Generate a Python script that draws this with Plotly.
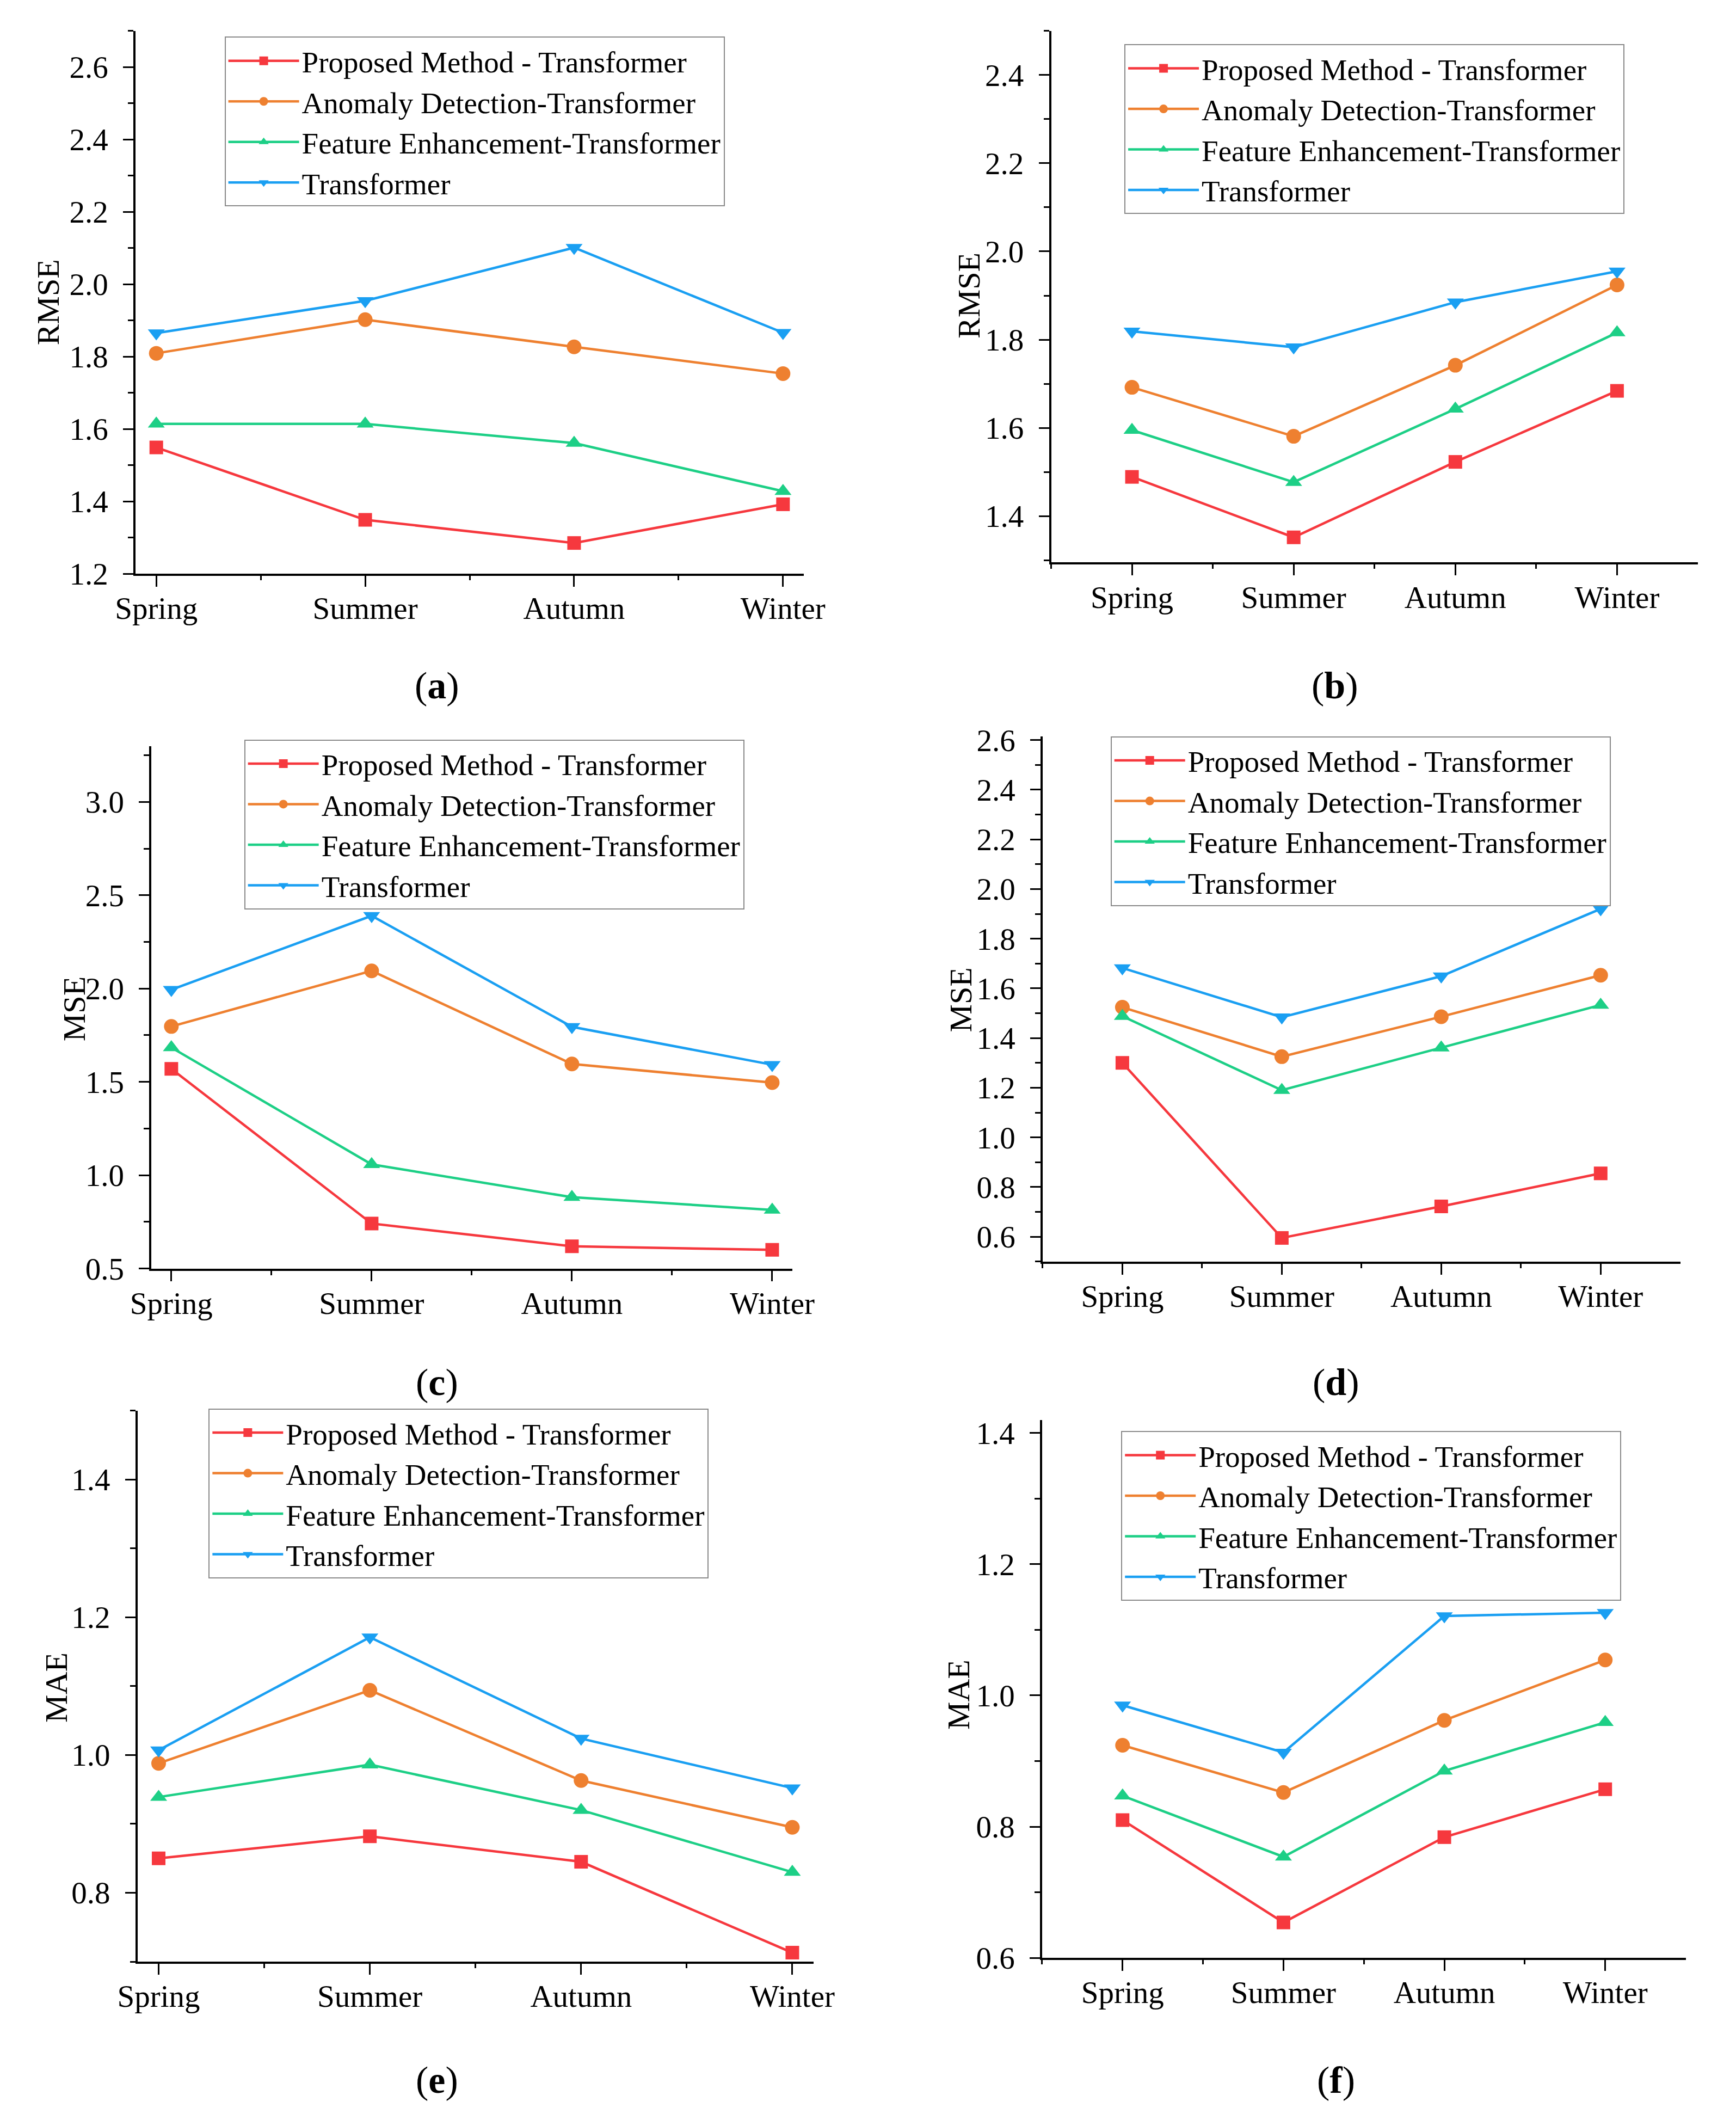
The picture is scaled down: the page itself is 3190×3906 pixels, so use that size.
import plotly.graph_objects as go

W, H = 3190, 3906

seasons = ["Spring", "Summer", "Autumn", "Winter"]
series_names = ["Proposed Method - Transformer", "Anomaly Detection-Transformer",
                "Feature Enhancement-Transformer", "Transformer"]

# (a) RMSE
a_proposed = [1.549, 1.349, 1.285, 1.392]
a_anomaly = [1.809, 1.902, 1.827, 1.753]
a_feature = [1.614, 1.614, 1.561, 1.428]
a_transformer = [1.865, 1.954, 2.101, 1.866]
# (b) RMSE
b_proposed = [1.489, 1.352, 1.523, 1.684]
b_anomaly = [1.692, 1.581, 1.742, 1.924]
b_feature = [1.595, 1.477, 1.643, 1.816]
b_transformer = [1.819, 1.783, 1.885, 1.955]
# (c) MSE
c_proposed = [1.570, 0.741, 0.619, 0.600]
c_anomaly = [1.797, 2.095, 1.596, 1.496]
c_feature = [1.684, 1.058, 0.882, 0.814]
c_transformer = [1.994, 2.390, 1.795, 1.592]
# (d) MSE
d_proposed = [1.300, 0.595, 0.722, 0.855]
d_anomaly = [1.524, 1.325, 1.486, 1.653]
d_feature = [1.488, 1.190, 1.361, 1.533]
d_transformer = [1.682, 1.484, 1.649, 1.920]
# (e) MAE
e_proposed = [0.850, 0.882, 0.845, 0.713]
e_anomaly = [0.988, 1.094, 0.963, 0.895]
e_feature = [0.939, 0.986, 0.920, 0.830]
e_transformer = [1.007, 1.171, 1.024, 0.952]
# (f) MAE
f_proposed = [0.810, 0.654, 0.784, 0.857]
f_anomaly = [0.924, 0.852, 0.962, 1.054]
f_feature = [0.847, 0.754, 0.885, 0.959]
f_transformer = [0.985, 0.913, 1.121, 1.126]

panel_data = {
    "a": [a_proposed, a_anomaly, a_feature, a_transformer],
    "b": [b_proposed, b_anomaly, b_feature, b_transformer],
    "c": [c_proposed, c_anomaly, c_feature, c_transformer],
    "d": [d_proposed, d_anomaly, d_feature, d_transformer],
    "e": [e_proposed, e_anomaly, e_feature, e_transformer],
    "f": [f_proposed, f_anomaly, f_feature, f_transformer],
}
y_titles = {"a": "RMSE", "b": "RMSE", "c": "MSE", "d": "MSE", "e": "MAE", "f": "MAE"}

# ---- styling / layout (pixels) ----
colors = ["#F6383E", "#EE8030", "#1DCF86", "#1A9FF2"]
symbols = ["square", "circle", "triangle-up", "triangle-down"]
msizes = [25, 27, 27, 27]
FONT = "Liberation Serif"

panels = {
    "a": dict(box=(207, 25, 1467, 1037), yr=[1.2, 2.7], dt=0.2, mn=0.1, xr=[-0.1, 3.1],
              leg=(375, 36), ttl=(42, 531), cap=(775, 1245)),
    "b": dict(box=(1933, 25, 3152, 1016), yr=[1.295, 2.5], dt=0.2, mn=0.1, xr=[-0.5, 3.5],
              leg=(2071, 50), ttl=(1778, 518), cap=(2468, 1245)),
    "c": dict(box=(237, 1358, 1445, 2332), yr=[0.5, 3.3], dt=0.5, mn=0.25, xr=[-0.1, 3.1],
              leg=(412, 1346), ttl=(92, 1848), cap=(775, 2544)),
    "d": dict(box=(1917, 1340, 3119, 2319), yr=[0.5, 2.615], dt=0.2, mn=0.1, xr=[-0.5, 3.5],
              leg=(2045, 1340), ttl=(1763, 1831), cap=(2470, 2544)),
    "e": dict(box=(211, 2597, 1485, 3624), yr=[0.7, 1.5], dt=0.2, mn=0.1, xr=[-0.1, 3.1],
              leg=(345, 2593), ttl=(58, 3113), cap=(775, 3845)),
    "f": dict(box=(1916, 2614, 3129, 3617), yr=[0.6, 1.42], dt=0.2, mn=0.1, xr=[-0.5, 3.5],
              leg=(2065, 2635), ttl=(1758, 3126), cap=(2470, 3845)),
}

fig = go.Figure()
layout = dict(
    width=W, height=H,
    margin=dict(l=0, r=0, t=0, b=0),
    paper_bgcolor="white", plot_bgcolor="white",
    font=dict(family=FONT, size=57, color="black"),
    showlegend=True,
)
annotations = []

for i, key in enumerate(["a", "b", "c", "d", "e", "f"], start=1):
    p = panels[key]
    l, t, r, b = p["box"]
    xd = [l / W, r / W]
    yd = [1 - b / H, 1 - t / H]
    xa = "x" if i == 1 else f"x{i}"
    ya = "y" if i == 1 else f"y{i}"
    xb = f"x{i + 6}"  # overlay axis carrying the between-category ticks
    leg = "legend" if i == 1 else f"legend{i}"

    for name, vals, c, s, ms in zip(series_names, panel_data[key], colors, symbols, msizes):
        fig.add_trace(go.Scatter(
            x=seasons, y=vals, name=name, mode="lines+markers",
            line=dict(color=c, width=4.5),
            marker=dict(symbol=s, size=ms, color=c, line=dict(width=0)),
            xaxis=xa, yaxis=ya, legend=leg,
        ))
    fig.add_trace(go.Scatter(x=seasons, y=[None] * len(seasons), xaxis=xb, yaxis=ya,
                             showlegend=False, hoverinfo="skip", mode="lines"))

    axis_common = dict(showgrid=False, zeroline=False, showline=True, linecolor="black",
                       linewidth=3.5, tickcolor="black", tickwidth=3,
                       tickfont=dict(family=FONT, size=57, color="black"))
    layout["xaxis" if i == 1 else f"xaxis{i}"] = dict(
        domain=xd, anchor=ya, type="category", categoryorder="array", categoryarray=seasons,
        range=p["xr"], ticks="outside", ticklen=20, ticklabelstandoff=-9, **axis_common)
    layout[f"xaxis{i + 6}"] = dict(
        domain=xd, anchor=ya, overlaying=xa, type="category", categoryorder="array",
        categoryarray=seasons, range=p["xr"], tickson="boundaries", ticks="outside",
        ticklen=11, tickwidth=3, tickcolor="black", showticklabels=False, showline=False,
        showgrid=False, zeroline=False, side="bottom")
    layout["yaxis" if i == 1 else f"yaxis{i}"] = dict(
        domain=yd, anchor=xa, range=p["yr"], tick0=0, dtick=p["dt"], ticks="outside",
        ticklen=19, ticklabelstandoff=16, tickformat=".1f",
        minor=dict(dtick=p["mn"], tick0=0, ticks="outside", ticklen=10, tickwidth=3,
                   tickcolor="black"),
        **axis_common)
    lx, lt = p["leg"]
    layout[leg] = dict(
        x=lx / W, y=1 - lt / H, xanchor="left", yanchor="top",
        bgcolor="white", bordercolor="#8a8a8a", borderwidth=2,
        font=dict(family=FONT, size=55, color="black"),
        itemwidth=130, tracegroupgap=0,
    )
    tx, ty = p["ttl"]
    annotations.append(dict(
        text=y_titles[key], x=tx / W, y=1 - ty / H, xref="paper", yref="paper",
        xanchor="center", yanchor="middle", textangle=-90, showarrow=False,
        font=dict(family=FONT, size=58, color="black")))
    cx, cy = p["cap"]
    annotations.append(dict(
        text=f"(<b>{key}</b>)", x=cx / W, y=1 - cy / H, xref="paper", yref="paper",
        xanchor="center", yanchor="middle", showarrow=False,
        font=dict(family=FONT, size=70, color="black")))

layout["annotations"] = annotations
fig.update_layout(**layout)
fig.write_html("out.html")
